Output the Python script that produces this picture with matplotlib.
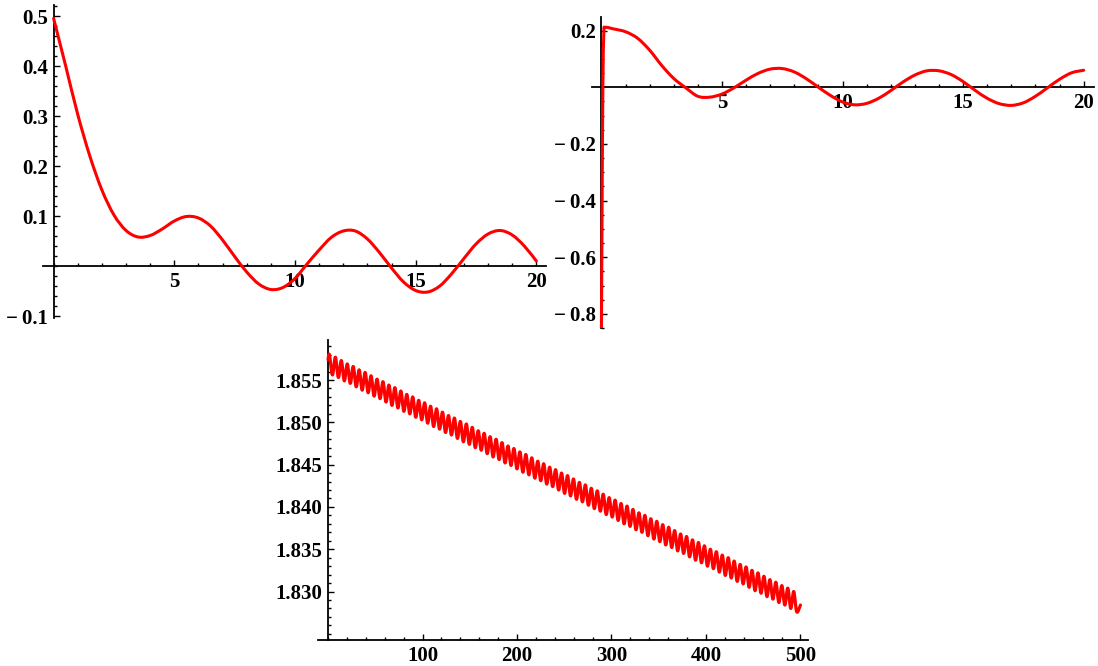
import numpy as np
import matplotlib.pyplot as plt
from matplotlib.path import Path
from matplotlib.patches import PathPatch
from matplotlib.ticker import MultipleLocator

plt.rcParams['font.family'] = ['Liberation Serif', 'DejaVu Serif']
plt.rcParams['font.weight'] = 'bold'
plt.rcParams['font.size'] = 15

# top left panel, sampled every 0.5
x1 = np.arange(0, 20.01, 0.5)
y1 = [0.495, 0.400, 0.303, 0.220, 0.152, 0.102, 0.071, 0.058, 0.061, 0.074,
      0.090, 0.099, 0.096, 0.080, 0.052, 0.019, -0.012, -0.036, -0.047, -0.043,
      -0.025, 0.004, 0.032, 0.057, 0.070, 0.070, 0.054, 0.027, -0.004, -0.032,
      -0.049, -0.052, -0.040, -0.015, 0.015, 0.044, 0.064, 0.071, 0.062, 0.040,
      0.010]

# top right panel: steep rise at the start, then every 0.5
x2 = [0, 0.03, 0.06, 0.10, 0.15] + list(np.arange(0.5, 20.01, 0.5))
y2 = [-0.87, -0.40, 0.0, 0.19, 0.211,
      0.206, 0.196, 0.173, 0.131, 0.077, 0.031, -0.002, -0.032, -0.035, -0.024,
      -0.002, 0.025, 0.049, 0.064, 0.066, 0.054, 0.030, 0.000, -0.029, -0.052,
      -0.062, -0.057, -0.039, -0.012, 0.018, 0.043, 0.058, 0.058, 0.045, 0.020,
      -0.011, -0.039, -0.058, -0.064, -0.055, -0.032, -0.002, 0.028, 0.051, 0.060]

# bottom panel: peaks and troughs of the fast oscillation (period about 6.3)
peak_y = [1.8580, 1.8577, 1.8573, 1.8569, 1.8566, 1.8562, 1.8559, 1.8555, 1.8551, 1.8548,
          1.8544, 1.8541, 1.8537, 1.8533, 1.8530, 1.8526, 1.8523, 1.8519, 1.8516, 1.8512,
          1.8508, 1.8505, 1.8501, 1.8498, 1.8494, 1.8490, 1.8487, 1.8483, 1.8480, 1.8476,
          1.8472, 1.8469, 1.8465, 1.8462, 1.8458, 1.8454, 1.8451, 1.8447, 1.8444, 1.8440,
          1.8437, 1.8433, 1.8429, 1.8426, 1.8422, 1.8419, 1.8415, 1.8411, 1.8408, 1.8404,
          1.8401, 1.8397, 1.8393, 1.8390, 1.8386, 1.8383, 1.8379, 1.8376, 1.8372, 1.8368,
          1.8365, 1.8361, 1.8358, 1.8354, 1.8350, 1.8347, 1.8343, 1.8340, 1.8336, 1.8332,
          1.8329, 1.8325, 1.8322, 1.8318, 1.8314, 1.8311, 1.8307, 1.8304, 1.8300]
trough_y = [1.8556, 1.8553, 1.8549, 1.8546, 1.8542, 1.8538, 1.8535, 1.8531, 1.8528, 1.8524,
            1.8520, 1.8517, 1.8513, 1.8510, 1.8506, 1.8503, 1.8499, 1.8495, 1.8492, 1.8488,
            1.8485, 1.8481, 1.8477, 1.8474, 1.8470, 1.8467, 1.8463, 1.8459, 1.8456, 1.8452,
            1.8449, 1.8445, 1.8441, 1.8438, 1.8434, 1.8431, 1.8427, 1.8424, 1.8420, 1.8416,
            1.8413, 1.8409, 1.8406, 1.8402, 1.8398, 1.8395, 1.8391, 1.8388, 1.8384, 1.8380,
            1.8377, 1.8373, 1.8370, 1.8366, 1.8362, 1.8359, 1.8355, 1.8352, 1.8348, 1.8345,
            1.8341, 1.8337, 1.8334, 1.8330, 1.8327, 1.8323, 1.8319, 1.8316, 1.8312, 1.8309,
            1.8305, 1.8301, 1.8298, 1.8294, 1.8291, 1.8287, 1.8284, 1.8280, 1.8276]
osc_period = 6.3
first_peak = 1.5
start_y3 = 1.8574
end_y3 = 1.8284

peak_t = first_peak + osc_period * np.arange(len(peak_y))
trough_t = peak_t + osc_period / 2
x3 = np.concatenate([[0], np.column_stack([peak_t, trough_t]).ravel(), [500]])
y3 = np.concatenate([[start_y3], np.column_stack([peak_y, trough_y]).ravel(), [end_y3]])

W, H = 1098, 666
fig = plt.figure(figsize=(W / 100, H / 100), dpi=100)


def add_axes_px(left, right, top, bottom):
    return fig.add_axes([left / W, 1 - bottom / H, (right - left) / W, (bottom - top) / H])


def style(ax, xlim, ylim, xorig, yorig):
    ax.set_xlim(xlim)
    ax.set_ylim(ylim)
    ax.patch.set_alpha(0)
    ax.spines[['top', 'right']].set_visible(False)
    ax.spines['left'].set_position(('data', xorig))
    ax.spines['bottom'].set_position(('data', yorig))
    for s in ('left', 'bottom'):
        ax.spines[s].set_linewidth(1.3)
    ax.tick_params(which='both', direction='in', width=1.0, color='black')
    ax.tick_params(which='major', length=4.5, pad=4)
    ax.tick_params(which='minor', length=2.5)


def smooth_curve(ax, x, y, lw):
    # draw the sampled points as a smooth curve (Catmull-Rom as cubic Bezier)
    p = np.column_stack([np.asarray(x, float), np.asarray(y, float)])
    n = len(p)
    verts = [p[0]]
    codes = [Path.MOVETO]
    for i in range(n - 1):
        p0 = p[i - 1] if i > 0 else p[i]
        p3 = p[i + 2] if i + 2 < n else p[i + 1]
        verts += [p[i] + (p[i + 1] - p0) / 6, p[i + 1] - (p3 - p[i]) / 6, p[i + 1]]
        codes += [Path.CURVE4] * 3
    ax.add_patch(PathPatch(Path(verts, codes), facecolor='none', edgecolor='red',
                           lw=lw, joinstyle='round', capstyle='round', zorder=3))


def neg(v):
    return '\u2212\u2009' + v


# top left
ax1 = add_axes_px(43, 546, 5, 318)
style(ax1, (-0.44, 20.4), (-0.104, 0.522), 0, 0)
smooth_curve(ax1, x1, y1, 2.2)
ax1.set_xticks([5, 10, 15, 20], ['5', '10', '15', '20'])
ax1.set_yticks([-0.1, 0.1, 0.2, 0.3, 0.4, 0.5],
               [neg('0.1'), '0.1', '0.2', '0.3', '0.4', '0.5'])
ax1.xaxis.set_minor_locator(MultipleLocator(1))
ax1.yaxis.set_minor_locator(MultipleLocator(0.02))

# top right
ax2 = add_axes_px(592, 1094, 17, 328)
style(ax2, (-0.39, 20.43), (-0.85, 0.248), 0, 0)
smooth_curve(ax2, x2, y2, 2.2)
ax2.set_xticks([5, 10, 15, 20], ['5', '10', '15', '20'])
ax2.set_yticks([-0.8, -0.6, -0.4, -0.2, 0.2],
               [neg('0.8'), neg('0.6'), neg('0.4'), neg('0.2'), '0.2'])
ax2.xaxis.set_minor_locator(MultipleLocator(1))
ax2.yaxis.set_minor_locator(MultipleLocator(0.05))

# bottom
ax3 = add_axes_px(318, 808, 340, 640)
style(ax3, (-10.6, 508), (1.82427, 1.85973), 0, 1.82427)
smooth_curve(ax3, x3, y3, 2.3)
ax3.set_xticks([100, 200, 300, 400, 500], ['100', '200', '300', '400', '500'])
ax3.set_yticks([1.830, 1.835, 1.840, 1.845, 1.850, 1.855],
               ['1.830', '1.835', '1.840', '1.845', '1.850', '1.855'])
ax3.xaxis.set_minor_locator(MultipleLocator(20))
ax3.yaxis.set_minor_locator(MultipleLocator(0.001))

fig.savefig('out.png', dpi=100)
